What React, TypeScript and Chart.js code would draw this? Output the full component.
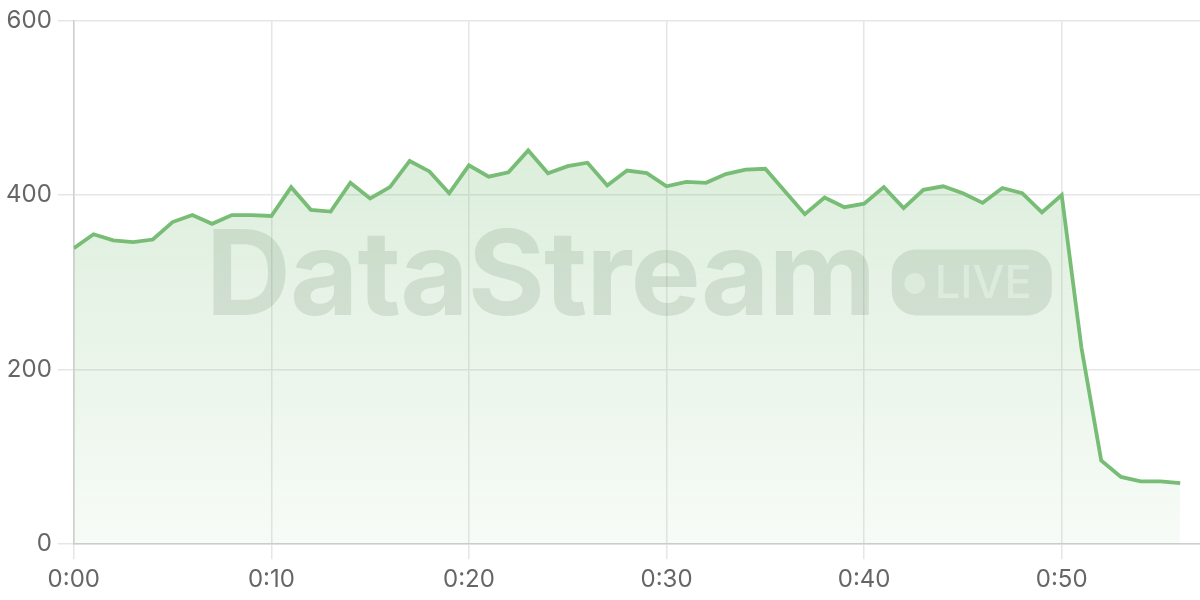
import { useEffect, useRef } from 'react';
import { Chart, registerables } from 'chart.js';

Chart.register(...registerables);

const minutes = [
  0, 1, 2, 3, 4, 5, 6, 7, 8, 9,
  10, 11, 12, 13, 14, 15, 16, 17, 18, 19,
  20, 21, 22, 23, 24, 25, 26, 27, 28, 29,
  30, 31, 32, 33, 34, 35, 36, 37, 38, 39,
  40, 41, 42, 43, 44, 45, 46, 47, 48, 49,
  50, 51, 52, 53, 54, 55, 56,
];
const viewers = [
  339, 355, 348, 346, 349, 369, 377, 367, 377, 377,
  376, 409, 383, 381, 414, 396, 409, 439, 427, 402,
  434, 421, 426, 451, 425, 433, 437, 411, 428, 425,
  410, 415, 414, 424, 429, 430, 404, 378, 397, 386,
  390, 409, 385, 406, 410, 402, 391, 408, 402, 380,
  400, 225, 96, 77, 72, 72, 70,
];
const xTickValues = [0, 10, 20, 30, 40, 50];
const xMin = 0;
const xMax = 57;
const yMin = 0;
const yMax = 600;
const yStep = 200;
const brandText = 'DataStream';
const badgeText = 'LIVE';

const LINE = 'rgb(120, 189, 118)';
const FONT = 'Inter, "Noto Sans", sans-serif';

const watermark = {
  id: 'watermark',
  beforeDatasetsDraw(chart: any) {
    const { ctx, chartArea } = chart;
    if (!chartArea) return;
    ctx.save();
    ctx.font = `bold 118px ${FONT}`;
    (ctx as any).letterSpacing = '-1px';
    ctx.textBaseline = 'alphabetic';
    ctx.textAlign = 'left';
    const left = chartArea.left + 132;
    const baseline = chartArea.top + 295;
    ctx.fillStyle = 'rgba(40, 60, 40, 0.13)';
    ctx.fillText(brandText, left, baseline);
    const bx = chartArea.left + 818;
    const bw = 160;
    const bh = 66;
    const by = baseline - bh;
    ctx.beginPath();
    (ctx as any).roundRect(bx, by, bw, bh, 24);
    ctx.fill();
    ctx.fillStyle = 'rgba(255, 255, 255, 0.6)';
    ctx.beginPath();
    ctx.arc(bx + 23, by + 34, 10.5, 0, Math.PI * 2);
    ctx.fill();
    (ctx as any).letterSpacing = '0px';
    ctx.font = `500 45px ${FONT}`;
    ctx.fillText(badgeText, bx + 43, by + 49);
    ctx.restore();
  },
};

export default function App() {
  const ref = useRef<HTMLCanvasElement | null>(null);

  useEffect(() => {
    document.body.style.margin = '0';
    const canvas = ref.current;
    if (!canvas) return;
    const chart = new Chart(canvas, {
      type: 'line',
      data: {
        datasets: [
          {
            data: minutes.map((m, i) => ({ x: m, y: viewers[i] })),
            borderColor: LINE,
            borderWidth: 3.8,
            pointRadius: 0,
            tension: 0,
            fill: 'origin',
            backgroundColor: (c: any) => {
              const { chart: ch } = c;
              const area = ch.chartArea;
              if (!area) return 'rgba(120,189,118,0.2)';
              const g = ch.ctx.createLinearGradient(0, area.top, 0, area.bottom);
              g.addColorStop(0, 'rgba(120, 189, 118, 0.32)');
              g.addColorStop(1, 'rgba(120, 189, 118, 0.06)');
              return g;
            },
          },
        ],
      },
      options: {
        animation: false,
        responsive: false,
        devicePixelRatio: 1,
        layout: { padding: { left: 0, top: 8, right: 0, bottom: 0 } },
        plugins: { legend: { display: false }, tooltip: { enabled: false } },
        scales: {
          x: {
            type: 'linear',
            min: xMin,
            max: xMax,
            afterBuildTicks: (scale: any) => {
              scale.ticks = xTickValues.map((v) => ({ value: v }));
            },
            grid: { color: '#e6e6e6', lineWidth: 1.5, tickLength: 15 },
            border: { color: '#cfcfcf', width: 1.5 },
            ticks: {
              color: '#666',
              padding: 6,
              font: { family: FONT, size: 24 },
              callback: (v: any) => `0:${String(v).padStart(2, '0')}`,
            },
          },
          y: {
            min: yMin,
            max: yMax,
            grid: { color: '#e6e6e6', lineWidth: 1.5, tickLength: 16 },
            border: { color: '#cfcfcf', width: 1.5 },
            ticks: {
              stepSize: yStep,
              color: '#666',
              padding: 6,
              font: { family: FONT, size: 24 },
            },
          },
        },
      },
      plugins: [watermark],
    });
    return () => chart.destroy();
  }, []);

  return <canvas ref={ref} width={1200} height={600} style={{ display: 'block' }} />;
}
